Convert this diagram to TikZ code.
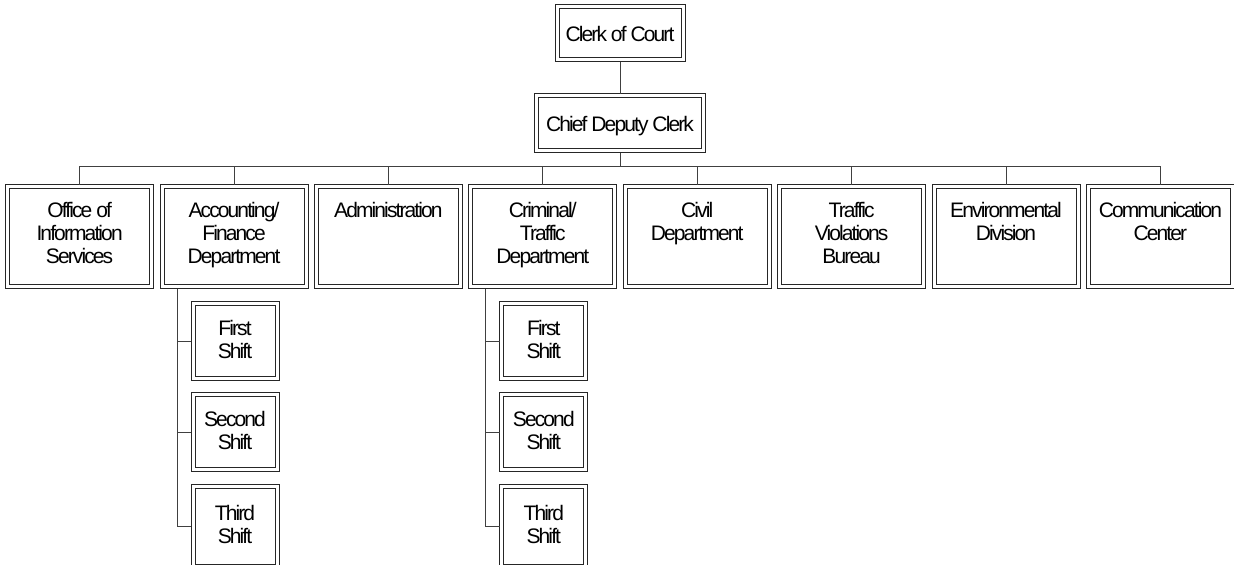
\documentclass[tikz,border=0pt]{standalone}
\usepackage{fontspec}
\setmainfont[LetterSpace=-9]{Liberation Sans}
\usetikzlibrary{positioning}
\newcommand{\unittext}[1]{\parbox[c][50pt][t]{72pt}{\centering\rule{0pt}{15.5pt}#1}}
\newcommand{\shifttext}[1]{\parbox[c][37.5pt][t]{42pt}{\centering\rule{0pt}{16pt}#1}}

\begin{document}
\begin{tikzpicture}[font=\fontsize{10.5pt}{11.35pt}\selectfont]
    \tikzstyle{box}=[draw=black!85, line width=0.5pt, double=white, double distance=1.5pt, inner sep=0pt, outer sep=1pt]
    \tikzstyle{top box}=[box, text height=7.6pt, text depth=0pt]
    \tikzstyle{unit}=[box, minimum width=72pt, minimum height=50pt]
    \tikzstyle{shift box}=[box, minimum width=42pt, minimum height=37.5pt]
    \tikzstyle{link}=[draw=black!75, line width=0.5pt]
    \tikzstyle{level 1}=[level distance=45pt]
    \tikzstyle{level 2}=[level distance=56.75pt, sibling distance=77.2pt]
    \useasboundingbox (0,0) rectangle (617pt,-282.5pt);
    \node[top box, minimum width=63pt, minimum height=26.5pt] (clerk) at (310pt,-16.75pt) {Clerk of Court}
        [edge from parent/.style={link}]
        child {node[top box, minimum width=83.5pt, minimum height=27.5pt] (chief) {Chief Deputy Clerk}
            [edge from parent path={(\tikzparentnode.south) -- ++(0,-7pt) -| (\tikzchildnode.north)}]
            child {node[unit] (ois) {\unittext{Office of\\Information\\Services}}
            }
            child {node[unit] (acc) {\unittext{Accounting/\\Finance\\Department}}
            }
            child {node[unit] (adm) {\unittext{Administration}}
            }
            child {node[unit] (crim) {\unittext{Criminal/\\Traffic\\Department}}
            }
            child {node[unit] (civ) {\unittext{Civil\\Department}}
            }
            child {node[unit] (tvb) {\unittext{Traffic\\Violations\\Bureau}}
            }
            child {node[unit] (env) {\unittext{Environmental\\Division}}
            }
            child {node[unit] (comm) {\unittext{Communication\\Center}}
            }
        };
    % shifts under the two departments
    \foreach \p in {acc,crim}{
        \node[shift box, below right=6.5pt and 15.5pt of \p.south west] (\p1) {\shifttext{First\\Shift}};
        \node[shift box, below=6pt of \p1] (\p2) {\shifttext{Second\\Shift}};
        \node[shift box, below=6pt of \p2, minimum height=40pt] (\p3) {\shifttext{Third\\Shift}};
        \coordinate (\p-spine) at ([xshift=8.5pt]\p.south west);
        \draw[link] (\p-spine) |- (\p3.west);
        \draw[link] (\p1.west) -- (\p1.west -| \p-spine);
        \draw[link] (\p2.west) -- (\p2.west -| \p-spine);
    }
\end{tikzpicture}
\end{document}
